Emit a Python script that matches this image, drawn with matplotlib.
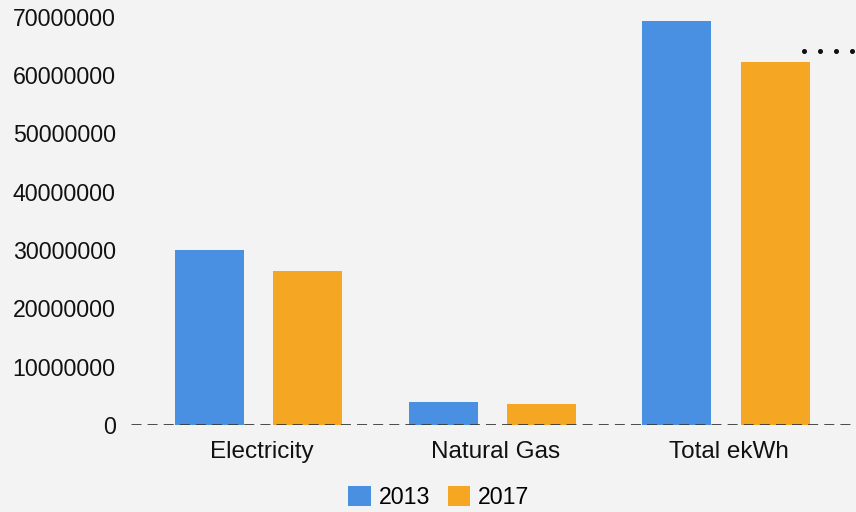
import matplotlib
matplotlib.use("Agg")
import matplotlib.pyplot as plt
import matplotlib.transforms as mtransforms
from matplotlib.patches import Patch
from matplotlib.lines import Line2D
import numpy as np

categories = ["Electricity", "Natural Gas", "Total ekWh"]
years = ["2013", "2017"]
values_2013 = [30000000, 3950000, 69300000]
values_2017 = [26400000, 3550000, 62300000]
yticks = [0, 10000000, 20000000, 30000000, 40000000, 50000000, 60000000, 70000000]

colors = ["#4a90e2", "#f5a623"]
bg = "#f3f3f3"

plt.rcParams["font.family"] = ["Liberation Sans", "DejaVu Sans"]

fig = plt.figure(figsize=(8.56, 5.12), dpi=100, facecolor=bg)
ax = fig.add_axes([0.153, 0.170, 0.847, 0.797])
ax.set_facecolor("none")

x = np.arange(len(categories))
w = 0.295
off = 0.21
ax.bar(x - off, values_2013, width=w, color=colors[0], zorder=2)
ax.bar(x + off, values_2017, width=w, color=colors[1], zorder=2)

ax.axhline(0, color="#3a3a3a", lw=2.0, ls=(0, (3.6, 2.2)), zorder=3)

ax.set_xlim(-0.546, 2.556)
ax.set_ylim(0, 70000000)
ax.set_yticks(yticks)
ax.set_yticklabels([str(v) for v in yticks])
ax.set_xticks(x)
ax.set_xticklabels(categories)
ax.tick_params(axis="y", length=0, pad=11, labelsize=16.7, labelcolor="#111111")
ax.tick_params(axis="x", length=0, pad=11.5, labelsize=17.5, labelcolor="#111111")
shift = mtransforms.ScaledTranslation(3 / 100, 0, fig.dpi_scale_trans)
for lbl in ax.get_xticklabels():
    lbl.set_transform(lbl.get_transform() + shift)
for s in ax.spines.values():
    s.set_visible(False)

# truncated marker row at the top right
dots_x = np.array([804, 820, 836, 852]) / 856
fig.add_artist(Line2D(dots_x, [1 - 51 / 512] * 4, transform=fig.transFigure,
                      ls="none", marker="o", ms=2.6, color="#111111"))

handles = [Patch(facecolor=c, edgecolor="none") for c in colors]
fig.legend(handles, years, loc="center", bbox_to_anchor=(439 / 856, 0.029),
           ncol=2, frameon=False, fontsize=16.7, handlelength=0.95, handleheight=0.95,
           handletextpad=0.35, columnspacing=0.78)

fig.savefig("out.png", dpi=100, facecolor=bg)
